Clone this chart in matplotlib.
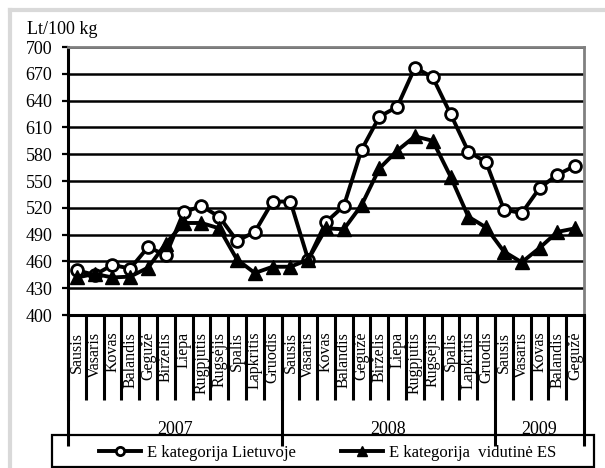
import numpy as np
import matplotlib
matplotlib.use("Agg")
import matplotlib.pyplot as plt
from matplotlib.lines import Line2D
from matplotlib.patches import Rectangle

plt.rcParams['font.family'] = ['Liberation Serif', 'DejaVu Serif']

months = ["Sausis", "Vasaris", "Kovas", "Balandis", "Gegužė", "Birželis", "Liepa",
          "Rugpjūtis", "Rugsėjis", "Spalis", "Lapkritis", "Gruodis",
          "Sausis", "Vasaris", "Kovas", "Balandis", "Gegužė", "Birželis", "Liepa",
          "Rugpjūtis", "Rugsėjis", "Spalis", "Lapkritis", "Gruodis",
          "Sausis", "Vasaris", "Kovas", "Balandis", "Gegužė"]
years = ["2007", "2008", "2009"]
year_bounds = [0, 12, 24, 29]

lt_values = [450, 445, 456, 452, 476, 467, 515, 522, 510, 483, 493, 527,
             527, 462, 504, 522, 585, 622, 633, 677, 666, 625, 583, 571,
             518, 514, 542, 557, 567]
es_values = [442, 446, 442, 443, 453, 480, 503, 503, 497, 462, 447, 454,
             454, 462, 497, 496, 523, 564, 584, 600, 595, 555, 510, 498,
             471, 459, 475, 493, 497]

series_names = ["E kategorija Lietuvoje", "E kategorija  vidutinė ES"]
y_ticks = list(range(400, 701, 30))

W, H = 605, 468
fig = plt.figure(figsize=(W / 100, H / 100), dpi=100)
fig.patch.set_facecolor('white')

# chart-area border (light gray)
fig.add_artist(Line2D([10 / W, 1.0], [1 - 10 / H, 1 - 10 / H], color='#d9d9d9', lw=3.0))
fig.add_artist(Line2D([10 / W, 10 / W], [0, 1 - 10 / H], color='#d9d9d9', lw=3.0))

ax = fig.add_axes([68 / W, (H - 315) / H, 516 / W, 268 / H])
n = len(months)
x = np.arange(n) + 0.5

ax.plot(x, lt_values, color='black', lw=2.8, marker='o', ms=8.5, mfc='white',
        mec='black', mew=2.0, clip_on=False, zorder=3, label=series_names[0])
ax.plot(x, es_values, color='black', lw=2.8, marker='^', ms=10, mfc='black',
        mec='black', clip_on=False, zorder=4, label=series_names[1])

ax.set_xlim(0, n)
ax.set_ylim(400, 700)
ax.set_yticks(y_ticks)
ax.set_yticklabels([str(v) for v in y_ticks])
ax.tick_params(axis='y', length=4.3, width=1.6, pad=7.0, labelsize=13, color='black')

ax.set_axisbelow(True)
ax.yaxis.grid(True, color='black', lw=1.8)
ax.xaxis.grid(False)

# month boundaries and labels
ax.set_xticks(np.arange(n + 1))
ax.set_xticklabels([''] * (n + 1))
ax.set_xticks(x, minor=True)
ax.set_xticklabels(months, minor=True, rotation=90)
ax.tick_params(axis='x', which='major', length=61.2, width=2.2, color='black', direction='out')
ax.tick_params(axis='x', which='minor', length=0, pad=12.0, labelsize=11.5)

for s in ['left', 'bottom']:
    ax.spines[s].set_color('black')
    ax.spines[s].set_linewidth(2.2)
for s in ['top', 'right']:
    ax.spines[s].set_color('#808080')
    ax.spines[s].set_linewidth(2.0)

# year level
sec = ax.secondary_xaxis('bottom')
sec.spines['bottom'].set_visible(False)
sec.set_xticks(year_bounds)
sec.set_xticklabels([''] * len(year_bounds))
year_centers = [(year_bounds[i] + year_bounds[i + 1]) / 2 for i in range(len(years))]
sec.set_xticks(year_centers, minor=True)
sec.set_xticklabels(years, minor=True)
sec.tick_params(axis='x', which='major', length=94.3, width=2.2, color='black', direction='out')
sec.tick_params(axis='x', which='minor', length=0, pad=76, labelsize=13)

# y unit label
fig.text(27 / W, 1 - 29 / H, "Lt/100 kg", ha='left', va='center', fontsize=13)

# legend frame and legend
fig.add_artist(Rectangle((52 / W, (H - 467) / H), 542 / W, 32 / H, fill=False,
                         edgecolor='black', lw=1.6))
handles, labels = ax.get_legend_handles_labels()
leg = fig.legend(handles, labels, loc='center left', bbox_to_anchor=(99 / W, (H - 453) / H),
                 ncol=2, frameon=False, fontsize=12, handlelength=2.5, handletextpad=0.36,
                 columnspacing=2.75, borderpad=0, borderaxespad=0, markerscale=0.7,
                 numpoints=1)

fig.savefig("out.png", dpi=100)
